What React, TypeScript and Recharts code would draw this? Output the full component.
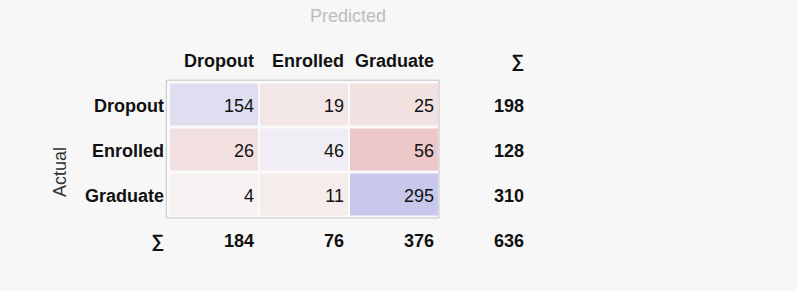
import React from 'react';
import { ScatterChart, Scatter, XAxis, YAxis, ReferenceArea } from 'recharts';

const classes = ['Dropout', 'Enrolled', 'Graduate'];
const dropoutRow = [154, 19, 25];
const enrolledRow = [26, 46, 56];
const graduateRow = [4, 11, 295];
const rowTotals = [198, 128, 310];
const colTotals = [184, 76, 376];
const grandTotal = 636;

const matrix = [dropoutRow, enrolledRow, graduateRow];

type Cell = { col: number; row: number; value: number; diag: boolean; frac: number };
type Label = { col: number; row: number; text: string; bold: boolean };

const maxDiag = Math.max(...matrix.map((r, i) => r[i]));
const maxOff = Math.max(...matrix.flatMap((r, i) => r.filter((_, j) => j !== i)));

const cells: Cell[] = matrix.flatMap((r, i) =>
  r.map((value, j) => ({
    col: j,
    row: i,
    value,
    diag: i === j,
    frac: i === j ? value / maxDiag : value / maxOff,
  }))
);

const SUM = '∑';

const labels: Label[] = [
  ...classes.map((c, j) => ({ col: j, row: -1, text: c, bold: true })),
  { col: 3, row: -1, text: SUM, bold: true },
  ...classes.map((c, i) => ({ col: -1, row: i, text: c, bold: true })),
  ...rowTotals.map((v, i) => ({ col: 3, row: i, text: String(v), bold: true })),
  { col: -1, row: 3, text: SUM, bold: true },
  ...colTotals.map((v, j) => ({ col: j, row: 3, text: String(v), bold: true })),
  { col: 3, row: 3, text: String(grandTotal), bold: true },
];

const mix = (a: number[], b: number[], t: number) =>
  `rgb(${a.map((v, k) => Math.round(v + (b[k] - v) * t)).join(',')})`;

const base = [247, 245, 245];
const blue = [200, 200, 236];
const red = [236, 200, 200];

const FONT = '"Liberation Sans", Arial, sans-serif';

const CellShape = (props: any) => {
  const { cx, cy, payload } = props;
  const fill = mix(base, payload.diag ? blue : red, payload.frac);
  return (
    <g>
      <rect x={cx - 44} y={cy - 21} width={88} height={42} fill={fill} />
      <text x={cx + 40} y={cy + 7.5} textAnchor="end" fontSize={18} fontFamily={FONT} fill="#111">
        {payload.value}
      </text>
    </g>
  );
};

const LabelShape = (props: any) => {
  const { cx, cy, payload } = props;
  return (
    <text
      x={cx + 40}
      y={cy + 7}
      textAnchor="end"
      fontSize={18}
      fontWeight={payload.bold ? 700 : 400}
      fontFamily={FONT}
      fill="#111"
    >
      {payload.text}
    </text>
  );
};

export default function App() {
  return (
    <div style={{ position: 'relative', width: 797, height: 291, background: '#f7f7f7', fontFamily: FONT }}>
      <style>{'body{margin:0}'}</style>
      <ScatterChart width={797} height={291} margin={{ top: 37, right: 268, bottom: 29, left: 79 }}>
        <XAxis type="number" dataKey="col" domain={[-1.5, 3.5]} hide />
        <YAxis type="number" dataKey="row" domain={[-1.5, 3.5]} reversed hide />
        <ReferenceArea
          x1={-0.53}
          x2={2.5}
          y1={-0.54}
          y2={2.52}
          fill="#fafafa"
          fillOpacity={1}
          stroke="#c4c4c4"
          strokeWidth={1}
        />
        <Scatter data={cells} shape={<CellShape />} isAnimationActive={false} />
        <Scatter data={labels} shape={<LabelShape />} isAnimationActive={false} />
      </ScatterChart>
      <div
        style={{
          position: 'absolute',
          left: 348,
          top: 6,
          transform: 'translateX(-50%)',
          fontSize: 18,
          color: '#bdbdbd',
          whiteSpace: 'nowrap',
        }}
      >
        Predicted
      </div>
      <div
        style={{
          position: 'absolute',
          left: 60,
          top: 172,
          transform: 'translate(-50%, -50%) rotate(-90deg)',
          fontSize: 18,
          color: '#333',
          whiteSpace: 'nowrap',
        }}
      >
        Actual
      </div>
    </div>
  );
}
